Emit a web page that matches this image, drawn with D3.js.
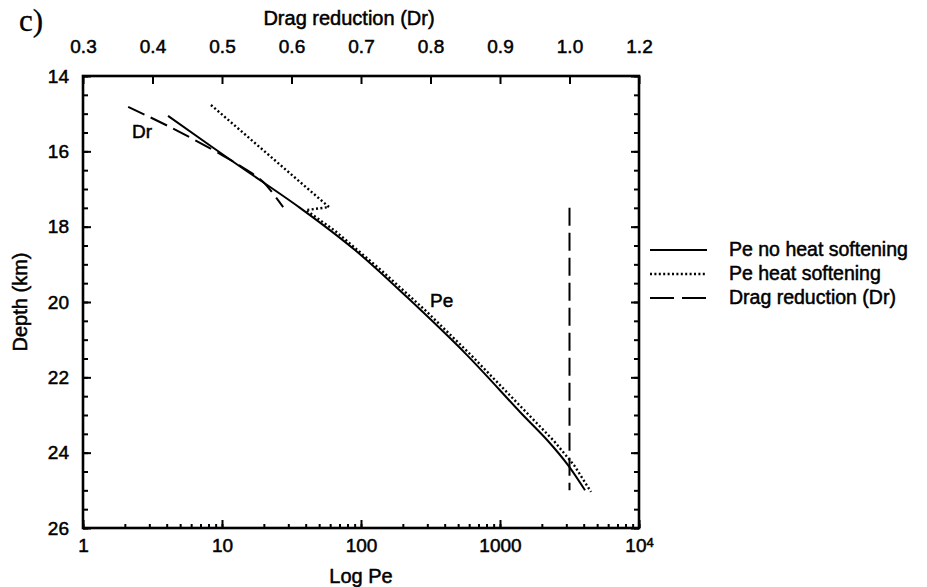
<!DOCTYPE html>
<html>
<head>
<meta charset="utf-8">
<script src="https://cdn.jsdelivr.net/npm/d3@7/dist/d3.min.js"></script>
<style>
  body { margin: 0; background: #fff; }
  svg text { font-family: "Liberation Sans", Arial, Helvetica, sans-serif; fill: #000; stroke: #000; stroke-width: 0.5; }
</style>
</head>
<body>
<div id="chart"></div>
<script>

//--- Daten ----------------------------------------------------------------------------- //

var peTicks = [1, 10, 100, 1000, 10000];
var peTickLabels = ["1", "10", "100", "1000", "10^4"];

var drTicks = [0.3, 0.4, 0.5, 0.6, 0.7, 0.8, 0.9, 1.0, 1.1];
var drTickLabels = ["0.3", "0.4", "0.5", "0.6", "0.7", "0.8", "0.9", "1.0", "1.2"];

var depthTicks = [14, 16, 18, 20, 22, 24, 26];

// Pe no heat softening (solid)
var peSolid    = [4.09, 12.4, 36.4, 90.5, 214, 579, 1393, 2215, 3085, 4090];
var depthSolid = [15.06, 16.31, 17.50, 18.62, 19.87, 21.41, 22.92, 23.69, 24.33, 25.0];

// Pe heat softening (dotted)
var peDotted    = [8.33, 58.9, 40.2, 65.0, 139, 294, 619, 1538, 2445, 3407, 4516];
var depthDotted = [14.77, 17.48, 17.56, 18.11, 19.15, 20.24, 21.41, 22.92, 23.69, 24.33, 25.04];

// Drag reduction (dashed), null = Unterbrechung
var drValues = [0.365, 0.428, 0.500, 0.536, 0.559, 0.588, null, 1.0, 1.0];
var drDepths = [14.82, 15.38, 16.10, 16.50, 16.81, 17.48, null, 17.5, 25.0];

var legendLabels = ["Pe no heat softening", "Pe heat softening", "Drag reduction (Dr)"];
var legendDash = ["none", "2,2.4", "24,8"];


//--- Grundgeruest ---------------------------------------------------------------------- //

var width = 927, height = 587;
var pLeft = 83, pRight = 639, pTop = 76, pBottom = 528;

var svg = d3.select('#chart').append('svg')
    .attr('width', width)
    .attr('height', height);

svg.append('rect').attr('width', width).attr('height', height).attr('fill', '#fff');

var x = d3.scaleLog().domain([1, 10000]).range([pLeft, pRight]);
var xDr = d3.scaleLinear().domain([0.3, 1.1]).range([pLeft, pRight]);
var y = d3.scaleLinear().domain([14, 26]).range([pTop, pBottom]);


//--- Achsen ---------------------------------------------------------------------------- //

function cleanAxis(g) {
    g.select('.domain').remove();
    g.selectAll('line').attr('stroke', '#000').attr('stroke-width', 2);
}

// unten, Nebenstriche
svg.append('g')
    .attr('transform', 'translate(0,' + pBottom + ')')
    .call(d3.axisBottom(x).tickValues(x.ticks()).tickSize(-4).tickFormat(''))
    .call(cleanAxis);

// unten, Hauptstriche + Zahlen
var gBottom = svg.append('g')
    .attr('transform', 'translate(0,' + pBottom + ')')
    .call(d3.axisBottom(x).tickValues(peTicks).tickSize(-8).tickPadding(11)
        .tickFormat(function (d, i) { return peTickLabels[i]; }))
    .call(cleanAxis);

gBottom.selectAll('text')
    .style('font-size', '19px')
    .each(function (d, i) {
        var lab = peTickLabels[i];
        if (lab.indexOf('^') > -1) {
            var parts = lab.split('^');
            var t = d3.select(this).text('');
            t.append('tspan').text(parts[0]);
            t.append('tspan').attr('dy', '-0.45em').style('font-size', '13px').text(parts[1]);
        }
    });

// oben, Drag reduction
svg.append('g')
    .attr('transform', 'translate(0,' + pTop + ')')
    .call(d3.axisTop(xDr).tickValues(drTicks).tickSize(-8).tickPadding(23)
        .tickFormat(function (d, i) { return drTickLabels[i]; }))
    .call(cleanAxis)
    .selectAll('text').style('font-size', '19px');

// links
var minorDepth = d3.range(14, 26.01, 0.5);

svg.append('g')
    .attr('transform', 'translate(' + pLeft + ',0)')
    .call(d3.axisLeft(y).tickValues(minorDepth).tickSize(-5).tickFormat(''))
    .call(cleanAxis);

svg.append('g')
    .attr('transform', 'translate(' + pLeft + ',0)')
    .call(d3.axisLeft(y).tickValues(depthTicks).tickSize(-8).tickPadding(14).tickFormat(d3.format('d')))
    .call(cleanAxis)
    .selectAll('text').style('font-size', '19px');

// rechts
svg.append('g')
    .attr('transform', 'translate(' + pRight + ',0)')
    .call(d3.axisRight(y).tickValues(minorDepth).tickSize(-5).tickFormat(''))
    .call(cleanAxis);

svg.append('g')
    .attr('transform', 'translate(' + pRight + ',0)')
    .call(d3.axisRight(y).tickValues(depthTicks).tickSize(-8).tickFormat(''))
    .call(cleanAxis);

// Rahmen
svg.append('rect')
    .attr('x', pLeft).attr('y', pTop)
    .attr('width', pRight - pLeft).attr('height', pBottom - pTop)
    .attr('fill', 'none').attr('stroke', '#000').attr('stroke-width', 2.6);


//--- Kurven ---------------------------------------------------------------------------- //

var linePe = d3.line()
    .x(function (d) { return x(d[0]); })
    .y(function (d) { return y(d[1]); })
    .curve(d3.curveCatmullRom);

var lineDr = d3.line()
    .defined(function (d) { return d[0] !== null; })
    .x(function (d) { return xDr(d[0]); })
    .y(function (d) { return y(d[1]); })
    .curve(d3.curveCatmullRom);

svg.append('path')
    .datum(d3.zip(peSolid, depthSolid))
    .attr('d', linePe)
    .attr('fill', 'none').attr('stroke', '#000').attr('stroke-width', 2);

svg.append('path')
    .datum(d3.zip(peDotted, depthDotted))
    .attr('d', linePe.curve(d3.curveLinear))
    .attr('fill', 'none').attr('stroke', '#000').attr('stroke-width', 2.4)
    .attr('stroke-dasharray', '2,2.4');

svg.append('path')
    .datum(d3.zip(drValues, drDepths))
    .attr('d', lineDr)
    .attr('fill', 'none').attr('stroke', '#000').attr('stroke-width', 2)
    .attr('stroke-dasharray', '18,7');


//--- Beschriftung ---------------------------------------------------------------------- //

svg.append('text').attr('x', 132).attr('y', 138).style('font-size', '19px').text('Dr');
svg.append('text').attr('x', 430).attr('y', 307).style('font-size', '19px').text('Pe');

svg.append('text')
    .attr('x', 19).attr('y', 31)
    .style('font-family', '"Liberation Serif", "Times New Roman", serif')
    .style('font-size', '31px')
    .style('stroke-width', 0.3)
    .text('c)');

svg.append('text')
    .attr('x', (pLeft + pRight) / 2 - 12).attr('y', 25)
    .attr('text-anchor', 'middle')
    .style('font-size', '20px')
    .text('Drag reduction (Dr)');

svg.append('text')
    .attr('x', (pLeft + pRight) / 2).attr('y', 583)
    .attr('text-anchor', 'middle')
    .style('font-size', '20px')
    .text('Log  Pe');

svg.append('text')
    .attr('transform', 'translate(27,' + ((pTop + pBottom) / 2) + ') rotate(-90)')
    .attr('text-anchor', 'middle')
    .style('font-size', '20px')
    .text('Depth (km)');


//--- Legende --------------------------------------------------------------------------- //

var legend = svg.append('g').attr('transform', 'translate(650,250)');

legendLabels.forEach(function (lab, i) {
    var row = legend.append('g').attr('transform', 'translate(0,' + (i * 24) + ')');
    row.append('line')
        .attr('x1', 0).attr('x2', 57).attr('y1', 0).attr('y2', 0)
        .attr('stroke', '#000')
        .attr('stroke-width', i == 1 ? 2.4 : 2)
        .attr('stroke-dasharray', legendDash[i]);
    row.append('text')
        .attr('x', 79).attr('y', 6)
        .style('font-size', '19.5px')
        .text(lab);
});

</script>
</body>
</html>
